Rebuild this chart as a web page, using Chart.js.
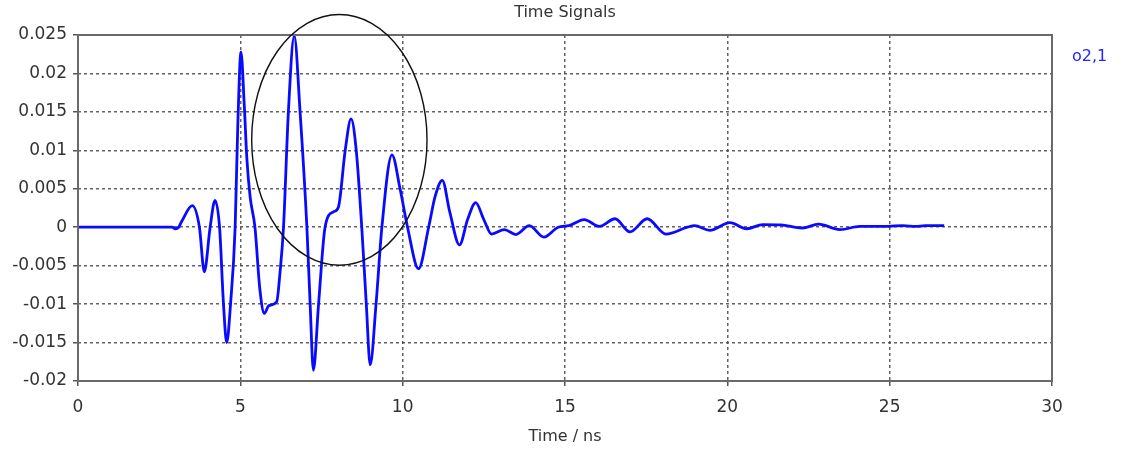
<!DOCTYPE html>
<html>
<head>
<meta charset="utf-8">
<title>Time Signals</title>
<script src="https://cdn.jsdelivr.net/npm/chart.js@4.4.1/dist/chart.umd.min.js"></script>
<style>
  body { margin: 0; background: #fff; }
  #wrap { width: 1125px; height: 455px; }
</style>
</head>
<body>
<div id="wrap"><canvas id="signalChart" width="1125" height="455"></canvas></div>
<script>
// Valores (tiempo en ns, señal o2,1)
const timeNs = [
  0, 2.9, 3.0, 3.1, 3.2, 3.52, 3.74, 3.89, 4.07, 4.22, 4.36, 4.48, 4.58, 4.7, 4.84, 4.92,
  5.02, 5.12, 5.2, 5.3, 5.45, 5.6, 5.74, 5.88, 6.12, 6.22, 6.33, 6.48, 6.66, 6.84, 7.05,
  7.15, 7.25, 7.41, 7.61, 7.87, 8.02, 8.23, 8.41, 8.57, 8.74, 8.88, 9.0, 9.18, 9.36, 9.67,
  9.92, 10.15, 10.49, 10.8, 11.0, 11.22, 11.45, 11.75, 12.0, 12.25, 12.5, 12.74, 13.13,
  13.49, 13.9, 14.35, 14.79, 15.12, 15.59, 16.06, 16.54, 17.0, 17.53, 18.11, 18.77, 18.99,
  19.46, 20.08, 20.6, 21.09, 21.65, 22.31, 22.81, 23.47, 24.08, 24.7, 25.41, 25.8, 26.1,
  26.4, 26.68
];
const signal = [
  0, 0, -0.0002, 0, 0.0008, 0.0028, 0, -0.0058, 0, 0.0035, 0, -0.0099, -0.0150, -0.0099, 0, 0.013,
  0.0228, 0.016, 0.009, 0.004, 0, -0.008, -0.0112, -0.0102, -0.0097, -0.006, 0, 0.015, 0.0249, 0.015, 0,
  -0.010, -0.0186, -0.010, 0, 0.0020, 0.0026, 0.010, 0.0141, 0.010, 0, -0.010, -0.0179, -0.010, 0, 0.0094,
  0.005, 0, -0.0054, 0, 0.004, 0.0061, 0.002, -0.0023, 0.001, 0.0032, 0.001, -0.0009, -0.0003,
  -0.00095, 0.0002, -0.0013, 0, 0.0002, 0.001, 0.0001, 0.0011, -0.0006, 0.0011, -0.0009, 0, 0.0002,
  -0.0004, 0.0006, -0.0002, 0.00035, 0.0003, -0.0001, 0.0004, -0.0003, 0.0001, 0.0001, 0.0002, 0.0001, 0.0002,
  0.0002, 0.0002
];
const seriesName = 'o2,1';
const chartTitle = 'Time Signals';
const xTitle = 'Time / ns';
const xTicks = [0, 5, 10, 15, 20, 25, 30];
const yTicks = [-0.02, -0.015, -0.01, -0.005, 0, 0.005, 0.01, 0.015, 0.02, 0.025];
// Elipse de anotación (en unidades de datos)
const ellipseMark = { cx: 8.05, cy: 0.01136, rx: 2.7, ry: 0.0163 };

const textFont = '16px "DejaVu Sans"';
const textColor = '#333';

// Marco, elipse y textos dibujados encima del gráfico
const decorPlugin = {
  id: 'decor',
  afterDraw(chart) {
    const { ctx, chartArea: a, scales: { x, y } } = chart;
    ctx.save();
    ctx.strokeStyle = '#6a6a6a';
    ctx.lineWidth = 2;
    ctx.strokeRect(a.left, a.top, a.right - a.left, a.bottom - a.top);

    const cx = x.getPixelForValue(ellipseMark.cx);
    const cy = y.getPixelForValue(ellipseMark.cy);
    const rx = x.getPixelForValue(ellipseMark.cx + ellipseMark.rx) - cx;
    const ry = cy - y.getPixelForValue(ellipseMark.cy + ellipseMark.ry);
    ctx.beginPath();
    ctx.ellipse(cx, cy, rx, ry, 0, 0, Math.PI * 2);
    ctx.strokeStyle = '#111';
    ctx.lineWidth = 1.4;
    ctx.stroke();

    const mid = (a.left + a.right) / 2;
    ctx.font = textFont;
    ctx.fillStyle = textColor;
    ctx.textAlign = 'center';
    ctx.textBaseline = 'middle';
    ctx.fillText(chartTitle, mid, 13);
    ctx.fillText(xTitle, mid, 437);
    ctx.textAlign = 'left';
    ctx.fillStyle = '#2424ff';
    ctx.fillText(seriesName, a.right + 20, 57);
    ctx.restore();
  }
};

const gridStyle = {
  color: 'rgba(70,70,70,0.85)',
  lineWidth: 1.5,
  tickLength: 5,
  tickColor: '#555',
  tickWidth: 1.5,
  tickBorderDash: []
};
const borderStyle = { display: false, dash: [3, 3] };

const config = {
  type: 'line',
  data: {
    datasets: [{
      label: seriesName,
      data: timeNs.map((t, i) => ({ x: t, y: signal[i] })),
      borderColor: '#0a0aff',
      borderWidth: 2.8,
      pointRadius: 0,
      cubicInterpolationMode: 'monotone',
      fill: false
    }]
  },
  options: {
    responsive: false,
    animation: false,
    layout: { padding: { left: 0, right: 73, top: 35, bottom: 0 } },
    plugins: { legend: { display: false }, title: { display: false }, tooltip: { enabled: false } },
    scales: {
      x: {
        type: 'linear',
        min: 0,
        max: 30,
        afterBuildTicks: (s) => { s.ticks = xTicks.map(v => ({ value: v })); },
        afterFit: (s) => { s.height = 74; },
        grid: gridStyle,
        border: borderStyle,
        ticks: { font: { family: 'DejaVu Sans', size: 17 }, color: textColor, padding: 11, maxRotation: 0 }
      },
      y: {
        min: -0.02,
        max: 0.025,
        afterBuildTicks: (s) => { s.ticks = yTicks.map(v => ({ value: v })); },
        afterFit: (s) => { s.width = 78; },
        grid: gridStyle,
        border: borderStyle,
        ticks: {
          font: { family: 'DejaVu Sans', size: 17 },
          color: textColor,
          padding: 6,
          callback: (v) => String(Number(v.toFixed(3)))
        }
      }
    }
  },
  plugins: [decorPlugin]
};

const ctx = document.getElementById('signalChart').getContext('2d');
new Chart(ctx, config);
</script>
</body>
</html>
